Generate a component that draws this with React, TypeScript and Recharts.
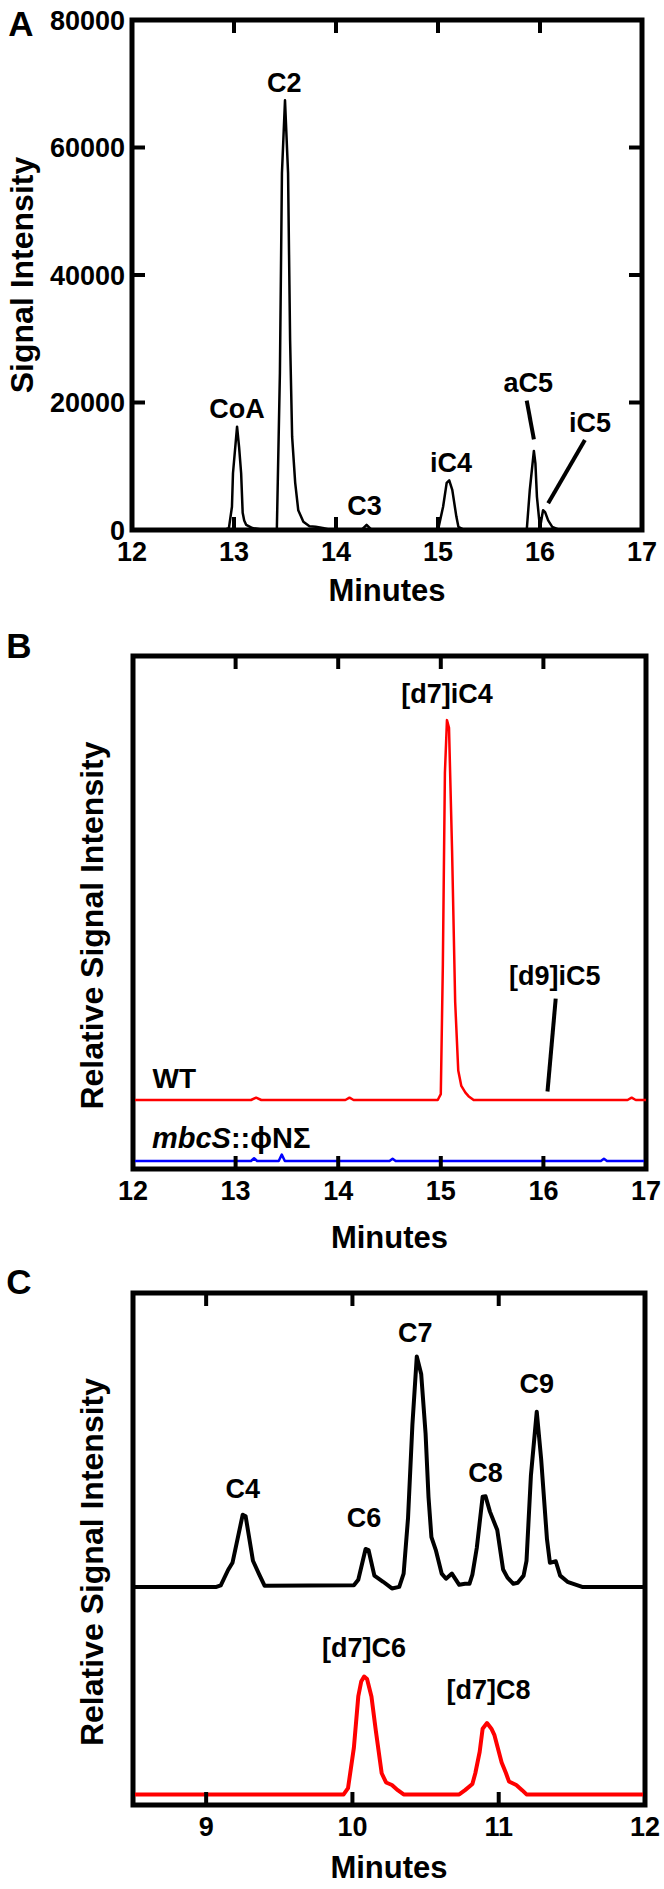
import React from 'react';
import { LineChart, Line, XAxis, YAxis, ReferenceDot, ReferenceLine, ReferenceArea } from 'recharts';

const FONT = '"Liberation Sans", Arial, Helvetica, sans-serif';

// Panel A: acyl-CoA standards
const aMinutes = [12, 12.9, 12.95, 12.98, 12.99, 13.03, 13.05, 13.07, 13.085, 13.1, 13.12, 13.18, 13.3, 13.42, 13.45, 13.47, 13.5, 13.53, 13.55, 13.57, 13.6, 13.63, 13.68, 13.74, 13.8, 13.87, 13.95, 14.25, 14.3, 14.35, 15.0, 15.05, 15.085, 15.11, 15.14, 15.18, 15.2, 15.26, 15.87, 15.9, 15.94, 15.955, 15.97, 16.0, 16.02, 16.03, 16.05, 16.08, 16.12, 16.18, 16.25, 17];
const aSignal = [0, 0, 300, 3650, 8900, 16200, 13000, 8900, 2700, 1500, 800, 300, 0, 0, 24600, 56000, 67400, 56000, 29800, 14600, 7400, 3100, 1300, 600, 500, 300, 0, 0, 800, 0, 0, 3650, 7400, 7800, 6300, 2100, 500, 0, 0, 6300, 12400, 10450, 5200, 300, 2200, 3100, 2800, 1500, 500, 100, 0, 0];
const aTicksX = [12, 13, 14, 15, 16, 17];
const aInnerTicksX = [13, 14, 15, 16];
const aTicksY = [0, 20000, 40000, 60000, 80000];
const aInnerTicksY = [20000, 40000, 60000];
const aPeaks = [
  { name: 'CoA', t: 13.03, y: 17570 },
  { name: 'C2', t: 13.493, y: 68700 },
  { name: 'C3', t: 14.28, y: 2350 },
  { name: 'iC4', t: 15.127, y: 9150 },
  { name: 'aC5', t: 15.885, y: 21700 },
  { name: 'iC5', t: 16.49, y: 15420 },
];
const aPointers = [
  [{ x: 15.87, y: 20280 }, { x: 15.94, y: 14220 }],
  [{ x: 16.44, y: 14120 }, { x: 16.08, y: 4190 }],
];

// Panel B: labelled isobutyrate feeding, WT vs mutant
const bWtMinutes = [12, 13.15, 13.2, 13.25, 14.07, 14.11, 14.15, 14.97, 15.0, 15.02, 15.04, 15.06, 15.08, 15.11, 15.14, 15.17, 15.2, 15.24, 15.27, 15.32, 16.82, 16.86, 16.9, 17];
const bWtSignal = [13.45, 13.45, 13.9, 13.45, 13.45, 13.9, 13.45, 13.45, 14.6, 39.8, 77.2, 87.5, 86, 62, 32.6, 19.2, 16.2, 14.9, 14.2, 13.45, 13.45, 13.9, 13.45, 13.45];
const bMutMinutes = [12, 13.15, 13.18, 13.21, 13.42, 13.45, 13.48, 14.5, 14.53, 14.56, 16.56, 16.59, 16.62, 17];
const bMutSignal = [1.56, 1.56, 2.1, 1.56, 1.56, 2.8, 1.56, 1.56, 2.0, 1.56, 1.56, 2.0, 1.56, 1.56];
const bTicksX = [12, 13, 14, 15, 16, 17];
const bInnerTicksX = [13, 14, 15, 16];
const bPeaks = [
  { name: '[d7]iC4', t: 15.06, y: 90.8 },
  { name: '[d9]iC5', t: 16.11, y: 35.8 },
];
const bPointer = [{ x: 16.12, y: 33.2 }, { x: 16.04, y: 15.1 }];

// Panel C: straight-chain standards and labelled products
const cStdMinutes = [8.5, 9.07, 9.1, 9.15, 9.18, 9.25, 9.27, 9.32, 9.36, 9.4, 10.01, 10.04, 10.09, 10.11, 10.15, 10.21, 10.27, 10.32, 10.35, 10.38, 10.41, 10.44, 10.47, 10.5, 10.52, 10.54, 10.57, 10.61, 10.64, 10.68, 10.73, 10.77, 10.8, 10.82, 10.85, 10.89, 10.91, 10.94, 10.99, 11.03, 11.06, 11.1, 11.13, 11.17, 11.19, 11.22, 11.26, 11.29, 11.33, 11.35, 11.39, 11.42, 11.47, 11.57, 12];
const cStdSignal = [42.6, 42.6, 42.9, 45.9, 47.3, 56.7, 56.4, 47.7, 45.2, 42.8, 42.9, 44, 50, 49.8, 44.8, 43.6, 42.3, 42.6, 45.2, 56, 74.3, 87.6, 84.2, 72.6, 60.2, 52.3, 49.8, 45.2, 44.2, 45.2, 43, 43.2, 43.2, 45, 50.2, 60.2, 60.3, 57.3, 53.7, 46, 44.4, 43.2, 43.4, 44.8, 47.7, 64.3, 76.8, 67.6, 51.9, 47.3, 47.6, 44.8, 43.6, 42.6, 42.6];
const cLabMinutes = [8.5, 9.94, 9.97, 10.01, 10.04, 10.06, 10.08, 10.1, 10.13, 10.16, 10.2, 10.23, 10.27, 10.31, 10.35, 10.73, 10.77, 10.82, 10.84, 10.87, 10.89, 10.92, 10.95, 10.97, 11.02, 11.05, 11.07, 11.12, 11.16, 11.19, 12];
const cLabSignal = [2.07, 2.07, 3.3, 11.2, 21.2, 24.1, 25.1, 24.6, 21.2, 14.5, 6.2, 4.4, 3.9, 2.9, 2.07, 2.07, 2.9, 4.1, 6.2, 10.4, 14.9, 16.0, 14.9, 13.7, 8.3, 6.2, 4.6, 3.9, 2.9, 2.07, 2.07];
const cTicksX = [9, 10, 11, 12];
const cInnerTicksX = [9, 10, 11];
const cPeaks = [
  { name: 'C4', t: 9.25, y: 60.0 },
  { name: 'C6', t: 10.08, y: 54.2 },
  { name: 'C7', t: 10.43, y: 90.5 },
  { name: 'C8', t: 10.91, y: 63.1 },
  { name: 'C9', t: 11.26, y: 80.5 },
  { name: '[d7]C6', t: 10.08, y: 29.0 },
  { name: '[d7]C8', t: 10.93, y: 20.7 },
];

// page layout of the three panels
const W = 664;
const LAYOUT = {
  A: { top: 0, height: 620, margin: { top: 20, right: 22, bottom: 10, left: 12 }, yw: 120, domain: [12, 17] },
  B: { top: 620, height: 650, margin: { top: 36, right: 18, bottom: 21, left: 12 }, yw: 121, domain: [12, 17] },
  C: { top: 1250, height: 639, margin: { top: 43, right: 19, bottom: 4, left: 12 }, yw: 121, domain: [8.5, 12] },
};

const toRows = (xs: number[], ys: number[]) => xs.map((t, i) => ({ t, v: ys[i] }));

const AXIS = { stroke: '#000', strokeWidth: 4, strokeLinecap: 'square' as const };
const TICK_LINE = { stroke: '#000', strokeWidth: 4 };
const TICK_FONT = { fontSize: 27, fontWeight: 700, fill: '#000', fontFamily: FONT };
const TICK_LEN = 13;

const XTitle = (props: any) => {
  const { viewBox, dy } = props;
  return (
    <text
      x={viewBox.x + viewBox.width / 2}
      y={viewBox.y + dy}
      textAnchor="middle"
      dominantBaseline="central"
      fontSize={31}
      fontWeight={700}
      fontFamily={FONT}
      fill="#000"
    >
      Minutes
    </text>
  );
};

const YTitle = (props: any) => {
  const { viewBox, text, dx, dy } = props;
  const x = viewBox.x + dx;
  const y = viewBox.y + viewBox.height / 2 + dy;
  return (
    <text
      x={x}
      y={y}
      transform={`rotate(-90 ${x} ${y})`}
      textAnchor="middle"
      dominantBaseline="central"
      fontSize={32}
      fontWeight={700}
      fontFamily={FONT}
      fill="#000"
    >
      {text}
    </text>
  );
};

const peakText = (text: React.ReactNode, anchor: 'middle' | 'start' = 'middle', size = 27) => (p: any) => (
  <text x={p.cx} y={p.cy} textAnchor={anchor} fontSize={size} fontWeight={700} fontFamily={FONT} fill="#000">
    {text}
  </text>
);

const bottomAxis = (domain: number[], ticks: number[], titleDy: number) => (
  <XAxis
    dataKey="t"
    type="number"
    domain={domain}
    ticks={ticks}
    interval={0}
    allowDataOverflow
    height={80}
    stroke="#000"
    strokeWidth={4}
    axisLine={AXIS}
    tickLine={TICK_LINE}
    tickSize={-TICK_LEN}
    tickMargin={25}
    tick={TICK_FONT}
    label={<XTitle dy={titleDy} />}
  />
);

// closed frame around the plot with mirrored inward ticks on the right edge
const frameShape = (range: number[], rightTicks: number[]) => (p: any) => {
  const { x, y, width, height } = p;
  const ty = (v: number) => y + height - ((v - range[0]) / (range[1] - range[0])) * height;
  return (
    <g>
      <rect x={x} y={y} width={width} height={height} fill="none" stroke="#000" strokeWidth={5} />
      {rightTicks.map((v) => (
        <line key={`r${v}`} x1={x + width - TICK_LEN} x2={x + width} y1={ty(v)} y2={ty(v)} stroke="#000" strokeWidth={4} />
      ))}
    </g>
  );
};

const frame = (domain: number[], range: number[], rightTicks: number[] = []) => (
  <ReferenceArea
    x1={domain[0]}
    x2={domain[1]}
    y1={range[0]}
    y2={range[1]}
    ifOverflow="visible"
    shape={frameShape(range, rightTicks)}
  />
);

const PanelA = () => (
  <LineChart width={W} height={LAYOUT.A.height} margin={LAYOUT.A.margin}>
    {bottomAxis(LAYOUT.A.domain, aTicksX, 60)}
    <YAxis
      type="number"
      domain={[0, 80000]}
      ticks={aTicksY}
      interval={0}
      allowDataOverflow
      width={LAYOUT.A.yw}
      stroke="#000"
      strokeWidth={4}
      axisLine={AXIS}
      tickLine={TICK_LINE}
      tickSize={-TICK_LEN}
      tickMargin={20}
      tick={TICK_FONT}
      label={<YTitle text="Signal Intensity" dx={10} dy={0} />}
    />
    {frame(LAYOUT.A.domain, [0, 80000], aInnerTicksY)}
    <Line
      data={toRows(aMinutes, aSignal)}
      dataKey="v"
      type="linear"
      stroke="#000"
      strokeWidth={2.5}
      strokeLinejoin="round"
      dot={false}
      isAnimationActive={false}
    />
    {aPointers.map((seg, i) => (
      <ReferenceLine key={`pa-${i}`} segment={seg} stroke="#000" strokeWidth={4} />
    ))}
    {aPeaks.map((p) => (
      <ReferenceDot key={p.name} x={p.t} y={p.y} r={0} shape={peakText(p.name)} />
    ))}
  </LineChart>
);

const PanelB = () => (
  <LineChart width={W} height={LAYOUT.B.height} margin={LAYOUT.B.margin}>
    {bottomAxis(LAYOUT.B.domain, bTicksX, 68)}
    <YAxis
      type="number"
      domain={[0, 100]}
      allowDataOverflow
      width={LAYOUT.B.yw}
      stroke="#000"
      strokeWidth={4}
      axisLine={AXIS}
      tickLine={false}
      tick={false}
      label={<YTitle text="Relative Signal Intensity" dx={80} dy={13} />}
    />
    {frame(LAYOUT.B.domain, [0, 100])}
    <Line
      data={toRows(bMutMinutes, bMutSignal)}
      dataKey="v"
      type="linear"
      stroke="#0000ff"
      strokeWidth={2.5}
      strokeLinejoin="round"
      dot={false}
      isAnimationActive={false}
    />
    <Line
      data={toRows(bWtMinutes, bWtSignal)}
      dataKey="v"
      type="linear"
      stroke="#ff0000"
      strokeWidth={2.5}
      strokeLinejoin="round"
      dot={false}
      isAnimationActive={false}
    />
    <ReferenceLine segment={bPointer} stroke="#000" strokeWidth={4} />
    {bPeaks.map((p) => (
      <ReferenceDot key={p.name} x={p.t} y={p.y} r={0} shape={peakText(p.name)} />
    ))}
    <ReferenceDot x={12.19} y={15.7} r={0} shape={peakText('WT', 'start', 28)} />
    <ReferenceDot
      x={12.185}
      y={4.1}
      r={0}
      shape={peakText(
        <>
          <tspan fontStyle="italic">mbcS</tspan>
          <tspan>::ϕNΣ</tspan>
        </>,
        'start',
        29
      )}
    />
  </LineChart>
);

const PanelC = () => (
  <LineChart width={W} height={LAYOUT.C.height} margin={LAYOUT.C.margin}>
    {bottomAxis(LAYOUT.C.domain, cTicksX, 62)}
    <YAxis
      type="number"
      domain={[0, 100]}
      allowDataOverflow
      width={LAYOUT.C.yw}
      stroke="#000"
      strokeWidth={4}
      axisLine={AXIS}
      tickLine={false}
      tick={false}
      label={<YTitle text="Relative Signal Intensity" dx={80} dy={13} />}
    />
    {frame(LAYOUT.C.domain, [0, 100])}
    <Line
      data={toRows(cStdMinutes, cStdSignal)}
      dataKey="v"
      type="linear"
      stroke="#000"
      strokeWidth={4}
      strokeLinejoin="round"
      dot={false}
      isAnimationActive={false}
    />
    <Line
      data={toRows(cLabMinutes, cLabSignal)}
      dataKey="v"
      type="linear"
      stroke="#ff0000"
      strokeWidth={4}
      strokeLinejoin="round"
      dot={false}
      isAnimationActive={false}
    />
    {cPeaks.map((p) => (
      <ReferenceDot key={p.name} x={p.t} y={p.y} r={0} shape={peakText(p.name)} />
    ))}
  </LineChart>
);

// mirrored inward ticks along each panel's top edge, placed from the panel layout
const topTickSets = [
  { panel: LAYOUT.A, ticks: aInnerTicksX },
  { panel: LAYOUT.B, ticks: bInnerTicksX },
  { panel: LAYOUT.C, ticks: cInnerTicksX },
];

const panelLetters = [
  { letter: 'A', x: 21, y: 23 },
  { letter: 'B', x: 19, y: 645 },
  { letter: 'C', x: 19, y: 1281 },
];

export default function App() {
  return (
    <div style={{ position: 'relative', width: W, height: 1889, background: '#fff', fontFamily: FONT }}>
      <style>{'body { margin: 0; background: #fff; }'}</style>
      <div style={{ position: 'absolute', left: 0, top: LAYOUT.A.top }}>
        <PanelA />
      </div>
      <div style={{ position: 'absolute', left: 0, top: LAYOUT.B.top }}>
        <PanelB />
      </div>
      <div style={{ position: 'absolute', left: 0, top: LAYOUT.C.top }}>
        <PanelC />
      </div>
      <svg width={W} height={1889} style={{ position: 'absolute', left: 0, top: 0, pointerEvents: 'none' }}>
        {topTickSets.map(({ panel, ticks }, i) => {
          const left = panel.margin.left + panel.yw;
          const right = W - panel.margin.right;
          const top = panel.top + panel.margin.top;
          const [d0, d1] = panel.domain;
          return (
            <g key={`tt${i}`}>
              {ticks.map((t) => {
                const x = left + ((t - d0) / (d1 - d0)) * (right - left);
                return <line key={t} x1={x} x2={x} y1={top} y2={top + TICK_LEN} stroke="#000" strokeWidth={4} />;
              })}
            </g>
          );
        })}
        {panelLetters.map((p) => (
          <text
            key={p.letter}
            x={p.x}
            y={p.y}
            textAnchor="middle"
            dominantBaseline="central"
            fontSize={35}
            fontWeight={700}
            fontFamily={FONT}
            fill="#000"
          >
            {p.letter}
          </text>
        ))}
      </svg>
    </div>
  );
}
